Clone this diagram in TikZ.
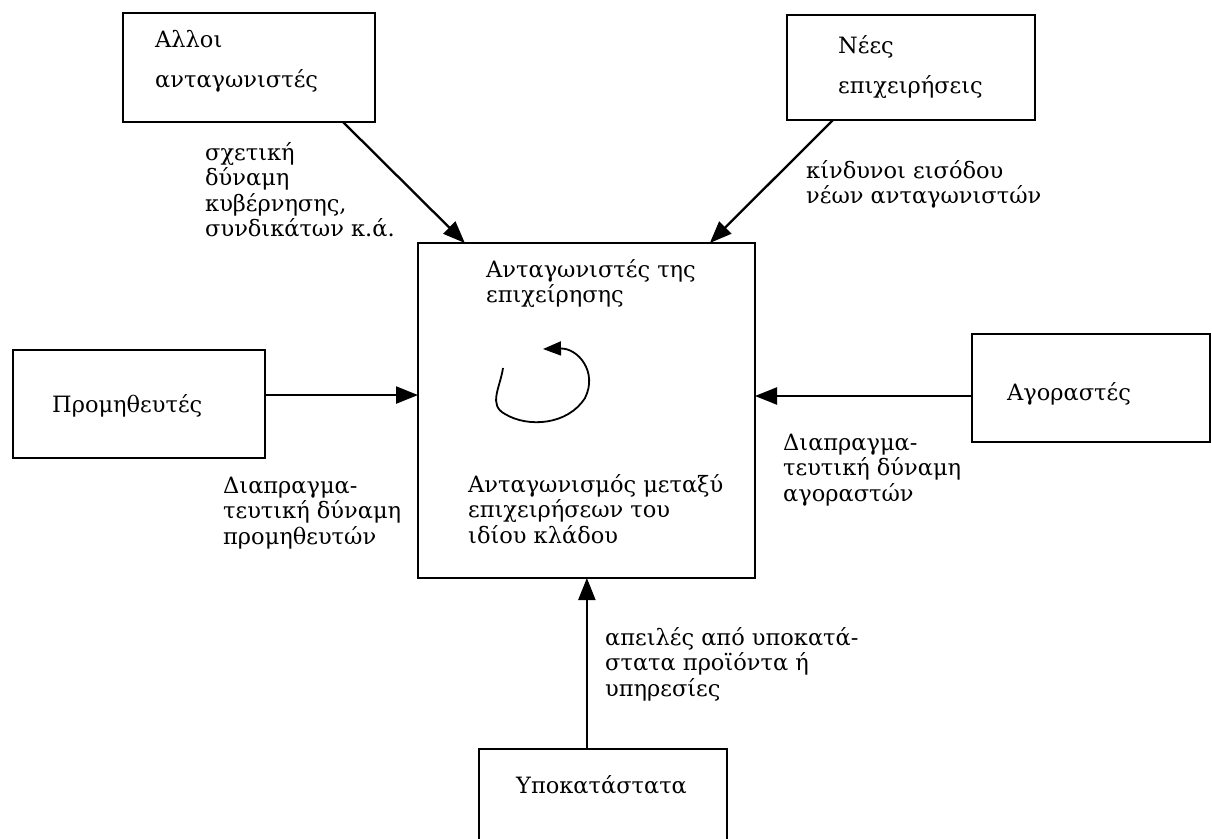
\documentclass[tikz,border=0pt]{standalone}
\usepackage{fontspec}
\setmainfont{DejaVu Serif}
\usetikzlibrary{arrows.meta,calc}
\newcommand\ML[1]{\vtop{\halign{##\hfil\cr#1\crcr}}}
\begin{document}
\begin{tikzpicture}[x=1pt,y=-1pt,
  box/.style={draw,line width=2.3pt,rectangle,inner sep=0pt,outer sep=0pt,anchor=north west},
  txt/.style={inner sep=0pt,anchor=base west,font=\fontsize{22.5}{25.5}\selectfont},
  arr/.style={line width=2.3pt,-{Triangle[length=22pt,width=17pt]}},
  curl/.style={line width=1.8pt,-{Triangle[length=18pt,width=14pt]}}]
\useasboundingbox (0,0) rectangle (1212,838);
\clip (0,0) rectangle (1212,838);
% boxes
\node[box,minimum width=252pt,minimum height=109pt] (allo) at (123,13) {};
\node[box,minimum width=248pt,minimum height=105pt] (nees) at (787,15) {};
\node[box,minimum width=337pt,minimum height=335pt] (comp) at (418,243) {};
\node[box,minimum width=252pt,minimum height=108pt] (prom) at (13,350) {};
\node[box,minimum width=238pt,minimum height=108pt] (agor) at (972,334) {};
\node[box,minimum width=248pt,minimum height=120pt] (ypo) at (479,749) {};
% box texts
\node[txt] (tallo) at (155,47) {\ML{Αλλοι\cr\noalign{\vskip15pt}ανταγωνιστές}};
\node[txt] (tnees) at (838,53) {\ML{Νέες\cr\noalign{\vskip15pt}επιχειρήσεις}};
\node[txt] (tprom) at (52,412) {Προμηθευτές};
\node[txt] (tagor) at (1007,400) {Αγοραστές};
\node[txt] (typo) at (516,793) {Υποκατάστατα};
\node[txt] (tcomp1) at (486,277) {\ML{Ανταγωνιστές της\cr επιχείρησης}};
\node[txt] (tcomp2) at (468,492) {\ML{Ανταγωνισμός μεταξύ\cr επιχειρήσεων του\cr ιδίου κλάδου}};
% labels
\node[txt] (lallo) at (205,160) {\ML{σχετική\cr δύναμη\cr κυβέρνησης,\cr συνδικάτων κ.ά.}};
\node[txt] (lnees) at (806,178) {\ML{κίνδυνοι εισόδου\cr νέων ανταγωνιστών}};
\node[txt] (lprom) at (223,493) {\ML{Διαπραγμα-\cr τευτική δύναμη\cr προμηθευτών}};
\node[txt] (lagor) at (783,450) {\ML{Διαπραγμα-\cr τευτική δύναμη\cr αγοραστών}};
\node[txt] (lypo) at (605,645) {\ML{απειλές από υποκατά-\cr στατα προϊόντα ή\cr υπηρεσίες}};
% connectors
\coordinate (a1) at ($(allo.south west)!0.873!(allo.south east)$);
\coordinate (a2) at ($(comp.north west)!0.139!(comp.north east)$);
\coordinate (n1) at ($(nees.south west)!0.185!(nees.south east)$);
\coordinate (n2) at ($(comp.north west)!0.866!(comp.north east)$);
\coordinate (p1) at ($(prom.north east)!0.417!(prom.south east)$);
\coordinate (g1) at ($(agor.north west)!0.574!(agor.south west)$);
\coordinate (y1) at ($(ypo.north west)!0.435!(ypo.north east)$);
\draw[arr] (a1) -- (a2);
\draw[arr] (n1) -- (n2);
\draw[arr] (p1) -- (comp.west |- p1);
\draw[arr] (g1) -- (comp.east |- g1);
\draw[arr] (y1) -- (comp.south -| y1);
% circular arrow
\coordinate (c0) at (503,368);
\coordinate (c1) at (505,414);
\coordinate (c2) at (585,398);
\coordinate (c3) at (543,349);
\draw[curl] (c0) .. controls (500,388) and (488,405) .. (c1)
  .. controls (528,428) and (568,425) .. (c2)
  .. controls (598,372) and (578,348) .. (c3);
\end{tikzpicture}
\end{document}
